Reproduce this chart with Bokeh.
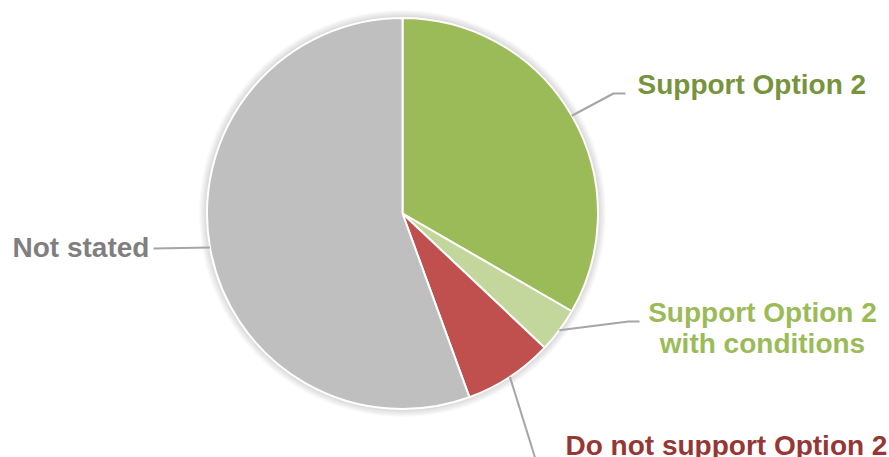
import math
from bokeh.plotting import figure
from bokeh.models import Range1d, ColumnDataSource
from bokeh.core.properties import value
from bokeh.embed import file_html
from bokeh.resources import INLINE

# ---- data ----
categories = ["Support Option 2", "Support Option 2 with conditions", "Do not support Option 2", "Not stated"]
counts = [9, 1, 2, 15]
slice_colors = ["#9BBB59", "#C3D69B", "#C0504D", "#BFBFBF"]
label_colors = ["#77933C", "#9BBB59", "#953735", "#7F7F7F"]

W, H = 889, 457
def Y(ys):
    return H - ys

p = figure(width=W, height=H, output_backend="svg", toolbar_location=None,
           x_range=Range1d(0, W), y_range=Range1d(0, H),
           min_border=0)
p.axis.visible = False
p.grid.visible = False
p.outline_line_color = None
p.background_fill_color = "white"
p.border_fill_color = "white"

cx, cy, R = 402, Y(213), 195.5

# soft shadow
for k in range(8, 0, -1):
    p.circle(x=[cx], y=[cy], radius=R + k, fill_color="black", fill_alpha=0.018, line_color=None)

total = sum(counts)
starts, ends, mids = [], [], []
cum = 0
for c in counts:
    a0 = math.pi / 2 - cum / total * 2 * math.pi
    cum += c
    a1 = math.pi / 2 - cum / total * 2 * math.pi
    starts.append(a0); ends.append(a1); mids.append((a0 + a1) / 2)

src = ColumnDataSource(dict(start=starts, end=ends, color=slice_colors, cat=categories))
p.wedge(x=cx, y=cy, radius=R, start_angle="start", end_angle="end", direction="clock",
        fill_color="color", line_color="white", line_width=2, source=src)

def edge(i):
    return cx + R * math.cos(mids[i]), cy + R * math.sin(mids[i])

lc = "#A6A6A6"
e0 = edge(0); p.line([e0[0], 613, 625], [e0[1], Y(93), Y(93)], line_color=lc, line_width=2)
e1 = edge(1); p.line([e1[0], 628, 639], [e1[1], Y(321), Y(321)], line_color=lc, line_width=2)
e2 = edge(2); p.line([e2[0], e2[0] + 26], [e2[1], Y(460)], line_color=lc, line_width=2)
e3 = edge(3); p.line([e3[0], 153], [e3[1], Y(248)], line_color=lc, line_width=2)

font = value("Liberation Sans")
def lab(x, y, t, col, align):
    p.text(x=[x], y=[y], text=[t], text_font=font, text_font_style="bold",
           text_font_size="28px", text_color=col, text_align=align, text_baseline="alphabetic")

lab(637, Y(84), "Support Option 2", label_colors[0], "left")
lab(762, Y(312), "Support Option 2", label_colors[1], "center")
lab(762, Y(343), "with conditions", label_colors[1], "center")
lab(565, Y(445), "Do not support Option 2", label_colors[2], "left")
lab(12, Y(247), "Not stated", label_colors[3], "left")

open("out.html", "w").write(file_html(p, INLINE))
